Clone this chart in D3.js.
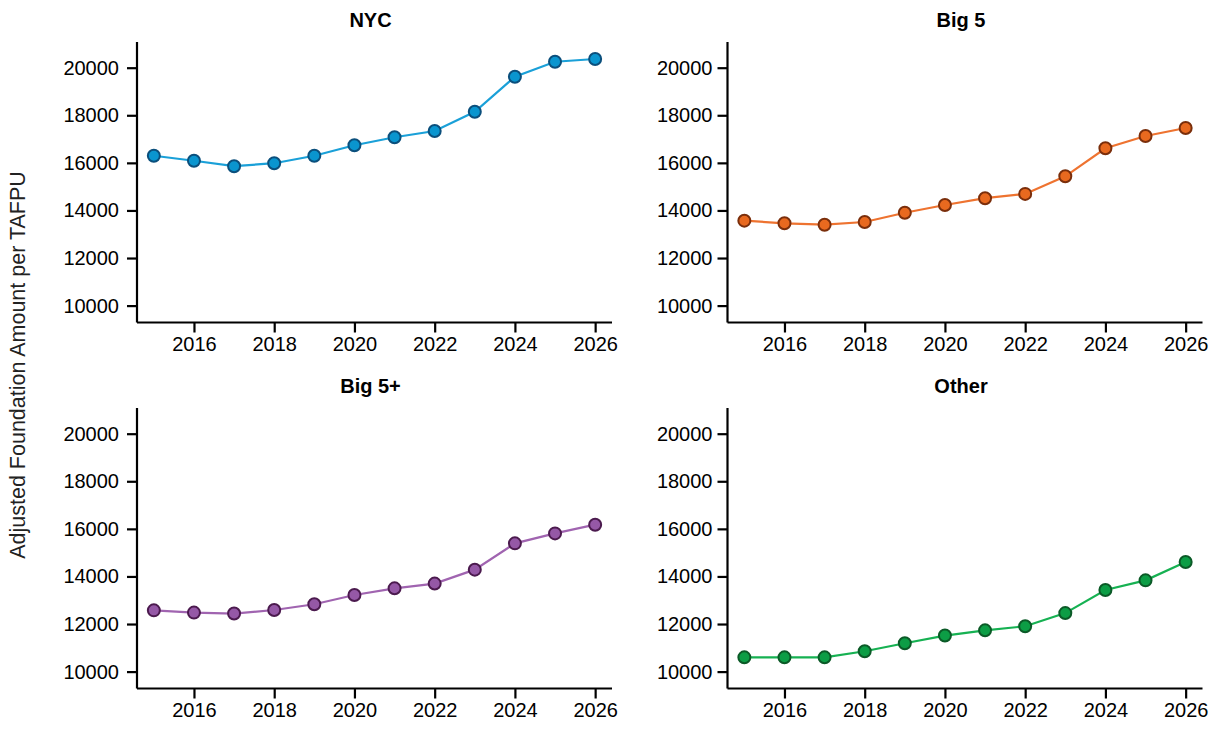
<!DOCTYPE html>
<html>
<head>
<meta charset="utf-8">
<script src="https://cdn.jsdelivr.net/npm/d3@7"></script>
<style>
  html, body { margin: 0; padding: 0; background: #fff; }
  svg { display: block; font-family: "Liberation Sans", Arial, sans-serif; }
</style>
</head>
<body>
<svg id="chart" width="1222" height="729"></svg>
<script>
// Years on the x axis
const years = [2015, 2016, 2017, 2018, 2019, 2020, 2021, 2022, 2023, 2024, 2025, 2026];

// Adjusted foundation amount per TAFPU by region group
const nycValues   = [16300, 16090, 15860, 15985, 16300, 16740, 17075, 17340, 18150, 19620, 20250, 20365];
const big5Values  = [13570, 13460, 13400, 13515, 13905, 14230, 14515, 14695, 15435, 16615, 17130, 17465];
const big5pValues = [12575, 12480, 12440, 12590, 12830, 13220, 13500, 13700, 14285, 15390, 15810, 16175];
const otherValues = [10600, 10600, 10600, 10855, 11190, 11515, 11735, 11905, 12460, 13430, 13835, 14605];

const panelTitles = ["NYC", "Big 5", "Big 5+", "Other"];
const yTicks = [10000, 12000, 14000, 16000, 18000, 20000];
const xTicks = [2016, 2018, 2020, 2022, 2024, 2026];

const panels = [
  { title: panelTitles[0], values: nycValues,   line: "#1aa0d8", fill: "#0a95cf", edge: "#0b4f7c", col: 0, row: 0 },
  { title: panelTitles[1], values: big5Values,  line: "#ee7330", fill: "#e8691f", edge: "#7a2e0b", col: 1, row: 0 },
  { title: panelTitles[2], values: big5pValues, line: "#a064b0", fill: "#9558a6", edge: "#4b1a4e", col: 0, row: 1 },
  { title: panelTitles[3], values: otherValues, line: "#16b152", fill: "#0c9d45", edge: "#0b5a27", col: 1, row: 1 }
];

const svg = d3.select("#chart");

// Panel frame: left edge of each plot area and top of each plot area
const colLeft = [137, 727.5];
const rowTop = [42, 408];
const plotW = 475;
const plotH = 280.5;

panels.forEach(p => {
  const x0 = colLeft[p.col];
  const y0 = rowTop[p.row];

  const x = d3.scaleLinear().domain([2014.58, 2026.42]).range([x0, x0 + plotW]);
  const y = d3.scaleLinear().domain([9290, 21080]).range([y0 + plotH, y0]);

  const g = svg.append("g");

  // y axis
  const ya = g.append("g")
    .attr("transform", `translate(${x0},0)`)
    .call(d3.axisLeft(y).tickValues(yTicks).tickSize(10).tickPadding(p.col === 0 ? 8 : 5).tickFormat(d3.format("d")));
  // x axis
  const xa = g.append("g")
    .attr("transform", `translate(0,${y0 + plotH})`)
    .call(d3.axisBottom(x).tickValues(xTicks).tickSize(10).tickPadding(4).tickFormat(d3.format("d")));

  [ya, xa].forEach(a => {
    a.select(".domain").attr("stroke", "#000").attr("stroke-width", 2.2);
    a.selectAll(".tick line").attr("stroke", "#000").attr("stroke-width", 2.2);
    a.selectAll(".tick text").attr("fill", "#000").style("font-size", "20px")
      .style("font-family", "'Liberation Sans', Arial, sans-serif");
  });
  // remove outer tick caps so the axis lines end at the plot area
  ya.select(".domain").attr("d", `M0,${y0}V${y0 + plotH}`);
  xa.select(".domain").attr("d", `M${x0},0H${x0 + plotW}`);

  const pts = years.map((yr, i) => [yr, p.values[i]]);

  g.append("path")
    .datum(pts)
    .attr("fill", "none")
    .attr("stroke", p.line)
    .attr("stroke-width", 2.2)
    .attr("d", d3.line().x(d => x(d[0])).y(d => y(d[1])));

  g.selectAll("circle.pt")
    .data(pts)
    .join("circle")
    .attr("class", "pt")
    .attr("cx", d => x(d[0]))
    .attr("cy", d => y(d[1]))
    .attr("r", 6)
    .attr("fill", p.fill)
    .attr("stroke", p.edge)
    .attr("stroke-width", 2);

  g.append("text")
    .attr("x", x0 + plotW / 2 - 4)
    .attr("y", y0 - 15)
    .attr("text-anchor", "middle")
    .style("font-size", "20px")
    .style("font-weight", "bold")
    .attr("fill", "#000")
    .text(p.title);
});

// shared y axis label
svg.append("text")
  .attr("transform", "translate(25,365) rotate(-90)")
  .attr("text-anchor", "middle")
  .style("font-size", "21.5px")
  .attr("fill", "#222")
  .text("Adjusted Foundation Amount per TAFPU");
</script>
</body>
</html>
